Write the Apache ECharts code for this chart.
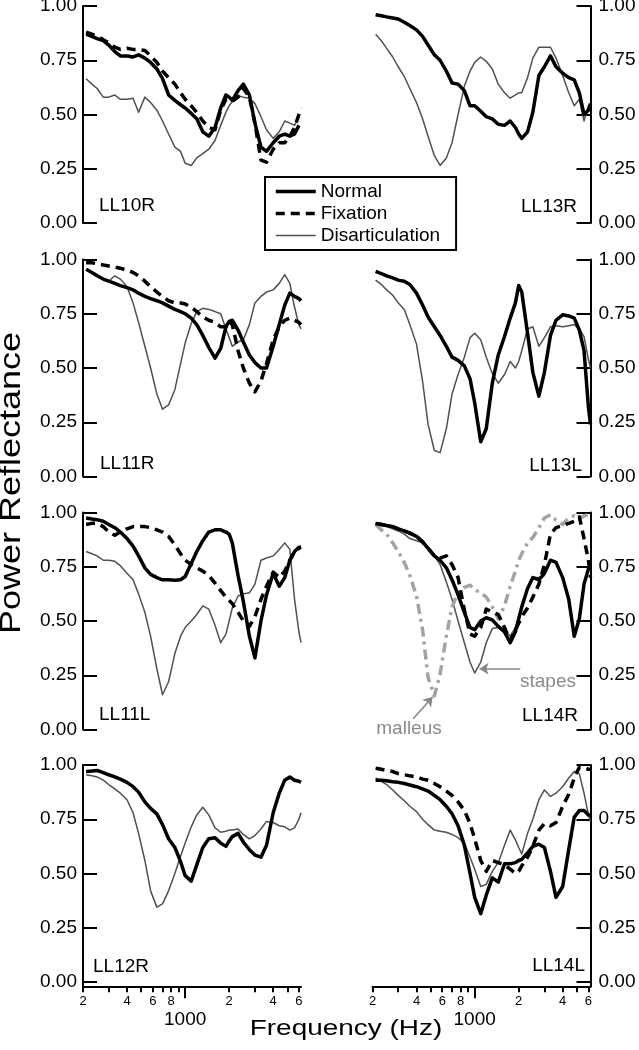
<!DOCTYPE html>
<html>
<head>
<meta charset="utf-8">
<title>Power Reflectance</title>
<script src="https://cdn.jsdelivr.net/npm/echarts@6/dist/echarts.min.js"></script>
<style>
  html, body { margin: 0; padding: 0; background: #fff; }
  #chart { width: 639px; height: 1050px; }
</style>
</head>
<body>
<div id="chart"></div>
<script>
// frequency grid (Hz) shared by all curves
var FREQ = [210, 230, 250, 275, 300, 330, 360, 400, 440, 480,
            530, 580, 640, 700, 770, 850, 930, 1000, 1100, 1200,
            1320, 1450, 1600, 1750, 1900, 2000, 2100, 2300, 2500, 2750,
            3000, 3300, 3600, 4000, 4400, 4800, 5200, 5600, 6000, 6200];

// LL10R
var LL10R_normal   = [0.87,0.86,0.85,0.84,0.82, 0.79,0.77,0.77,0.765,0.775, 0.76,0.74,0.71,0.665,0.59, 0.565,0.545,0.53,0.505,0.48, 0.42,0.40,0.44,0.53,0.59, 0.58,0.565,0.61,0.64,0.59, 0.46,0.35,0.33,0.37,0.40, 0.41,0.40,0.41,0.45,null];
var LL10R_fixation = [0.88,0.87,0.86,0.845,0.83, 0.81,0.80,0.805,0.80,0.80, 0.795,0.77,0.74,0.70,0.67, 0.64,0.60,0.57,0.54,0.51, 0.47,0.44,0.43,0.52,0.57, 0.565,0.56,0.58,0.62,0.58, 0.46,0.29,0.28,0.34,0.37, 0.37,0.40,0.44,0.50,0.53];
var LL10R_disartic = [0.665,0.64,0.62,0.58,0.58, 0.59,0.57,0.57,0.575,0.51, 0.58,0.555,0.52,0.47,0.41, 0.35,0.33,0.275,0.265,0.30, 0.32,0.34,0.38,0.45,0.51, 0.54,0.56,0.585,0.58,0.575, 0.55,0.49,0.43,0.39,0.42, 0.47,0.46,0.45,0.49,null];
// LL13R
var LL13R_normal   = [0.96,0.955,0.95,0.945,0.94, 0.925,0.91,0.89,0.86,0.82, 0.775,0.75,0.70,0.645,0.64, 0.61,0.54,0.54,0.515,0.49, 0.48,0.455,0.45,0.47,0.44, 0.41,0.39,0.42,0.51,0.68, 0.72,0.77,0.72,0.69,0.67, 0.66,0.60,0.50,0.52,0.55];
var LL13R_disartic = [0.87,0.84,0.805,0.765,0.72, 0.675,0.62,0.555,0.48,0.40, 0.31,0.265,0.30,0.37,0.50, 0.63,0.70,0.74,0.765,0.745, 0.71,0.64,0.60,0.575,0.59, 0.60,0.60,0.67,0.76,0.81, 0.81,0.81,0.76,0.68,0.60, 0.54,0.57,0.47,0.54,null];
// LL11R
var LL11R_normal   = [0.955,0.94,0.925,0.91,0.90, 0.89,0.88,0.87,0.86,0.845, 0.83,0.82,0.81,0.80,0.785, 0.77,0.76,0.75,0.73,0.70, 0.65,0.595,0.545,0.59,0.69, 0.715,0.72,0.675,0.62,0.56, 0.525,0.50,0.50,0.60,0.70, 0.79,0.845,0.83,0.82,0.81];
var LL11R_fixation = [0.985,0.985,0.98,0.975,0.97, 0.965,0.96,0.95,0.94,0.925, 0.90,0.875,0.85,0.83,0.81, 0.80,0.80,0.795,0.78,0.76, 0.735,0.72,0.71,0.69,0.69, 0.715,0.70,0.58,0.50,0.43, 0.39,0.44,0.52,0.63,0.69, 0.72,0.73,0.72,0.71,0.70];
var LL11R_disartic = [0.955,0.94,0.93,0.91,0.90, 0.925,0.91,0.875,0.80,0.71, 0.60,0.50,0.38,0.31,0.33, 0.40,0.52,0.615,0.705,0.76, 0.775,0.77,0.76,0.75,0.68, 0.64,0.60,0.62,0.63,0.70, 0.80,0.83,0.85,0.86,0.89, 0.93,0.89,0.78,0.70,0.68];
// LL13L
var LL13L_normal   = [0.945,0.935,0.925,0.915,0.905, 0.90,0.885,0.845,0.79,0.735, 0.69,0.65,0.60,0.55,0.535, 0.51,0.45,0.34,0.16,0.22, 0.43,0.56,0.645,0.73,0.80, 0.88,0.85,0.66,0.48,0.37, 0.48,0.65,0.72,0.745,0.74, 0.73,0.675,0.58,0.32,0.24];
var LL13L_disartic = [0.905,0.885,0.86,0.835,0.80, 0.77,0.70,0.61,0.44,0.24, 0.12,0.11,0.22,0.38,0.47, 0.55,0.64,0.66,0.63,0.55, 0.475,0.43,0.47,0.53,0.50, 0.53,0.58,0.68,0.69,0.60, 0.64,0.69,0.695,0.69,0.695, 0.70,0.68,0.645,0.54,0.50];
// LL11L
var LL11L_normal   = [0.975,0.97,0.967,0.96,0.945, 0.93,0.91,0.88,0.845,0.80, 0.745,0.715,0.70,0.69,0.69, 0.688,0.69,0.705,0.765,0.82, 0.87,0.91,0.92,0.92,0.91, 0.90,0.86,0.71,0.59,0.43, 0.33,0.50,0.62,0.72,0.66, 0.70,0.78,0.82,0.84,0.84];
var LL11L_fixation = [0.945,0.95,0.95,0.935,0.91, 0.895,0.91,0.925,0.935,0.935, 0.935,0.93,0.92,0.91,0.89, 0.85,0.81,0.78,0.76,0.745, 0.73,0.71,0.675,0.64,0.61, 0.595,0.58,0.54,0.50,0.475, 0.52,0.60,0.66,0.725,0.70, 0.73,0.78,0.82,0.835,0.84];
var LL11L_disartic = [0.82,0.81,0.80,0.78,0.78, 0.775,0.755,0.72,0.69,0.625, 0.54,0.43,0.28,0.16,0.22, 0.35,0.43,0.47,0.50,0.53, 0.57,0.555,0.48,0.40,0.44, 0.50,0.56,0.615,0.625,0.63, 0.67,0.78,0.79,0.80,0.83, 0.86,0.83,0.60,0.45,0.40];
// LL14R
var LL14R_normal   = [0.95,0.945,0.94,0.935,0.925, 0.915,0.905,0.89,0.865,0.835, 0.80,0.78,0.745,0.69,0.62, 0.54,0.47,0.46,0.50,0.515, 0.505,0.475,0.45,0.40,0.45, 0.51,0.565,0.65,0.70,0.69, 0.72,0.78,0.77,0.70,0.60, 0.43,0.51,0.67,0.74,0.77];
var LL14R_fixation = [0.95,0.945,0.94,0.935,0.925, 0.915,0.905,0.89,0.865,0.835, 0.80,0.79,0.80,0.76,0.70, 0.55,0.44,0.43,0.47,0.555, 0.54,0.53,0.47,0.41,0.46, 0.49,0.52,0.56,0.61,0.67, 0.76,0.90,0.93,0.94,0.95, 0.96,0.98,0.88,0.78,0.70];
var LL14R_disartic = [0.945,0.94,0.935,0.925,0.915, 0.90,0.88,0.87,0.86,0.84, 0.80,0.76,0.68,0.60,0.50, 0.40,0.31,0.26,0.31,0.40, 0.465,0.47,0.46,0.43,0.47, 0.52,0.57,0.65,0.70,0.70, 0.71,null,null,null,null, null,null,null,null,null];
var LL14R_malleus  = [0.945,0.92,0.90,0.86,0.82, 0.77,0.71,0.615,0.46,0.24, 0.155,0.255,0.43,0.565,0.63, 0.655,0.665,0.645,0.63,0.61, 0.565,0.51,0.57,0.66,0.73, 0.78,0.81,0.86,0.885,0.93, 0.975,0.99,0.965,0.945,0.975, 0.985,0.97,0.985,0.99,0.99];
// LL12R
var LL12R_normal   = [0.97,0.972,0.975,0.965,0.955, 0.945,0.935,0.92,0.90,0.875, 0.83,0.80,0.775,0.725,0.66, 0.62,0.555,0.49,0.465,0.54, 0.62,0.66,0.665,0.64,0.625, 0.65,0.67,0.685,0.645,0.61, 0.585,0.575,0.63,0.78,0.87, 0.93,0.945,0.93,0.925,0.92];
var LL12R_disartic = [0.955,0.95,0.945,0.93,0.91, 0.89,0.87,0.84,0.78,0.685, 0.56,0.42,0.345,0.36,0.42, 0.50,0.58,0.64,0.715,0.77, 0.805,0.77,0.71,0.69,0.695, 0.70,0.70,0.705,0.68,0.66, 0.675,0.705,0.74,0.735,0.72, 0.715,0.70,0.71,0.75,0.78];
// LL14L
var LL14L_normal   = [0.93,0.93,0.927,0.923,0.92, 0.915,0.908,0.90,0.89,0.88, 0.86,0.84,0.81,0.775,0.72, 0.63,0.50,0.39,0.315,0.40, 0.48,0.46,0.545,0.545,0.55, 0.56,0.565,0.595,0.625,0.635, 0.62,0.51,0.39,0.44,0.61, 0.76,0.79,0.79,0.77,0.77];
var LL14L_fixation = [0.985,0.98,0.975,0.97,0.96, 0.955,0.95,0.945,0.935,0.93, 0.915,0.90,0.88,0.86,0.83, 0.79,0.73,0.66,0.56,0.51, 0.56,0.55,0.54,0.52,0.50, 0.51,0.535,0.575,0.625,0.70, 0.73,0.72,0.735,0.81,0.865, 0.94,0.99,0.99,0.98,0.98];
var LL14L_disartic = [0.94,0.925,0.91,0.885,0.86, 0.835,0.81,0.785,0.75,0.725, 0.70,0.695,0.69,0.68,0.665, 0.64,0.575,0.52,0.44,0.45, 0.51,0.55,0.63,0.70,0.655, 0.62,0.59,0.685,0.75,0.84, 0.885,0.855,0.87,0.90,0.94, 0.97,0.96,0.87,0.77,0.74];

// axis ticks and labels
var X_TICKS  = [200,300,400,500,600,700,800,900,2000,3000,4000,5000,6000];
var X_LABELS = [200,400,600,800,2000,4000,6000];
var X_MAJOR  = [1000];
var Y_TICKS  = [0, 0.25, 0.5, 0.75, 1];

// annotation arrows in LL14R [freq, value]
var MALLEUS_ARROW = [[380, 0.05], [515, 0.15]];
var STAPES_ARROW  = [[2050, 0.28], [1080, 0.28]];

var PANELS = [
  {name: 'LL10R', normal: LL10R_normal, fixation: LL10R_fixation, disartic: LL10R_disartic},
  {name: 'LL13R', normal: LL13R_normal, disartic: LL13R_disartic},
  {name: 'LL11R', normal: LL11R_normal, fixation: LL11R_fixation, disartic: LL11R_disartic},
  {name: 'LL13L', normal: LL13L_normal, disartic: LL13L_disartic},
  {name: 'LL11L', normal: LL11L_normal, fixation: LL11L_fixation, disartic: LL11L_disartic},
  {name: 'LL14R', normal: LL14R_normal, fixation: LL14R_fixation, disartic: LL14R_disartic, malleus: LL14R_malleus},
  {name: 'LL12R', normal: LL12R_normal, disartic: LL12R_disartic},
  {name: 'LL14L', normal: LL14L_normal, fixation: LL14L_fixation, disartic: LL14L_disartic}
];

// layout
var FONT = '"Liberation Sans", Arial, Helvetica, sans-serif';
var COL_LEFT = [83, 372.5];
var ROW_TOP = [6, 259.5, 512.5, 765];
var PLOT_W = 218, PLOT_H = 217;
var XMIN = Math.log10(200), XMAX = Math.log10(6200);
var LABEL_POS = [[99, 206, 'left'], [577, 207, 'right'], [100, 463.5, 'left'], [582, 465.5, 'right'],
                 [99, 714.5, 'left'], [578, 715.5, 'right'], [93, 966.5, 'left'], [585, 965.5, 'right']];

var STYLE = {
  disartic: {name: 'Disarticulation', color: '#505050', width: 1.5, type: 'solid', z: 2},
  malleus:  {name: 'malleus', color: '#a3a3a3', width: 3.5, type: [10, 5, 3, 5], z: 3},
  normal:   {name: 'Normal', color: '#000', width: 3.5, type: 'solid', z: 4},
  fixation: {name: 'Fixation', color: '#000', width: 3.5, type: [9, 6], z: 5}
};
var ORDER = ['disartic', 'malleus', 'normal', 'fixation'];

function pairs(vals) {
  var out = [];
  for (var i = 0; i < FREQ.length; i++) {
    if (vals[i] != null) out.push([Math.log10(FREQ[i]), vals[i]]);
  }
  return out;
}
function lg(list) { return list.map(function (f) { return Math.log10(f); }); }
function arrow(a) {
  return [[{coord: [Math.log10(a[0][0]), a[0][1]]}, {coord: [Math.log10(a[1][0]), a[1][1]]}]];
}
function txt(text, x, y, size, align, color) {
  return {type: 'text', x: x, y: y, z: 20, silent: true,
    style: {text: text, fontSize: size, fontFamily: FONT, fill: color || '#000',
      align: align, textAlign: align, verticalAlign: 'middle', textVerticalAlign: 'middle'}};
}

var grids = [], xAxes = [], yAxes = [], series = [], graphics = [];

PANELS.forEach(function (p, i) {
  var col = i % 2, row = Math.floor(i / 2), bottom = row === 3;
  grids.push({left: COL_LEFT[col], top: ROW_TOP[row], width: PLOT_W,
    height: bottom ? PLOT_H * 1.02 : PLOT_H, containLabel: false, outerBoundsMode: 'none'});

  xAxes.push({
    gridIndex: i, type: 'value', min: XMIN, max: XMAX, show: bottom, position: 'bottom',
    axisLine: {show: true, onZero: false, lineStyle: {color: '#000', width: 2}},
    axisTick: {show: true, inside: false, length: 6, lineStyle: {color: '#000', width: 2}, customValues: lg(X_TICKS)},
    axisLabel: {show: true, customValues: lg(X_LABELS), fontSize: 13, color: '#000', fontFamily: FONT, margin: 9,
      formatter: function (v) { return String(Math.round(Math.pow(10, v))).charAt(0); }},
    splitLine: {show: false}
  });

  yAxes.push({
    gridIndex: i, type: 'value', min: bottom ? -0.02 : 0, max: 1,
    position: col === 0 ? 'left' : 'right',
    axisLine: {show: true, onZero: false, lineStyle: {color: '#000', width: 2}},
    axisTick: {show: true, inside: true, length: 14, lineStyle: {color: '#000', width: 2}, customValues: Y_TICKS},
    axisLabel: {show: true, customValues: Y_TICKS, fontSize: 19, color: '#000', fontFamily: FONT,
      margin: col === 0 ? 6 : 8, formatter: function (v) { return v.toFixed(2); }},
    splitLine: {show: false}
  });

  ORDER.forEach(function (key) {
    if (!p[key]) return;
    var s = STYLE[key];
    var ser = {
      type: 'line', name: s.name, xAxisIndex: i, yAxisIndex: i, data: pairs(p[key]),
      symbol: 'none', showSymbol: false, z: s.z, silent: true,
      lineStyle: {color: s.color, width: s.width, type: s.type, join: 'round'},
      itemStyle: {color: s.color}, emphasis: {disabled: true}
    };
    if (p.name === 'LL14R' && key === 'malleus') {
      ser.markLine = {silent: true, symbol: ['none', 'arrow'], symbolSize: 9, animation: false,
        lineStyle: {color: '#858585', width: 1.5, type: 'solid'}, label: {show: false},
        emphasis: {disabled: true}, data: arrow(MALLEUS_ARROW)};
    }
    if (p.name === 'LL14R' && key === 'disartic') {
      ser.markLine = {silent: true, symbol: ['none', 'arrow'], symbolSize: 9, animation: false,
        lineStyle: {color: '#858585', width: 1.5, type: 'solid'}, label: {show: false},
        emphasis: {disabled: true}, data: arrow(STAPES_ARROW)};
    }
    series.push(ser);
  });

  var lp = LABEL_POS[i];
  graphics.push(txt(p.name, lp[0], lp[1], 19, lp[2]));
});

// long tick + "1000" label on the bottom row
[6, 7].forEach(function (g) {
  xAxes.push({
    gridIndex: g, type: 'value', min: XMIN, max: XMAX, position: 'bottom',
    axisLine: {show: false, onZero: false}, splitLine: {show: false},
    axisTick: {show: true, inside: false, length: 12, lineStyle: {color: '#000', width: 2}, customValues: lg(X_MAJOR)},
    axisLabel: {show: true, customValues: lg(X_MAJOR), fontSize: 19, color: '#000', fontFamily: FONT, margin: 24,
      formatter: function () { return '1000'; }}
  });
});

// axis titles
var yTitle = txt('Power Reflectance', 12, 483, 30, 'center');
yTitle.rotation = Math.PI / 2;
yTitle.scaleX = 1.2;
graphics.push(yTitle);
var xTitle = txt('Frequency (Hz)', 346, 1029, 22, 'center');
xTitle.scaleX = 1.27;
graphics.push(xTitle);

// LL14R annotations
graphics.push(txt('malleus', 409, 728.5, 19, 'center', '#8a8a8a'));
graphics.push(txt('stapes', 548, 681.5, 19, 'center', '#8a8a8a'));

var chart = echarts.init(document.getElementById('chart'), null, {renderer: 'canvas'});
chart.setOption({
  animation: false,
  backgroundColor: '#fff',
  textStyle: {fontFamily: FONT},
  grid: grids,
  xAxis: xAxes,
  yAxis: yAxes,
  legend: {
    orient: 'vertical', left: 265, top: 177, z: 10,
    padding: [5, 16, 5, 9], itemGap: 3, itemWidth: 40, itemHeight: 14,
    borderColor: '#000', borderWidth: 2, borderRadius: 0, backgroundColor: '#fff',
    selectedMode: false,
    textStyle: {fontSize: 19, color: '#000', fontFamily: FONT},
    itemStyle: {opacity: 0},
    lineStyle: {width: 'inherit'},
    data: ['Normal', 'Fixation', 'Disarticulation']
  },
  graphic: graphics,
  series: series
});
</script>
</body>
</html>
